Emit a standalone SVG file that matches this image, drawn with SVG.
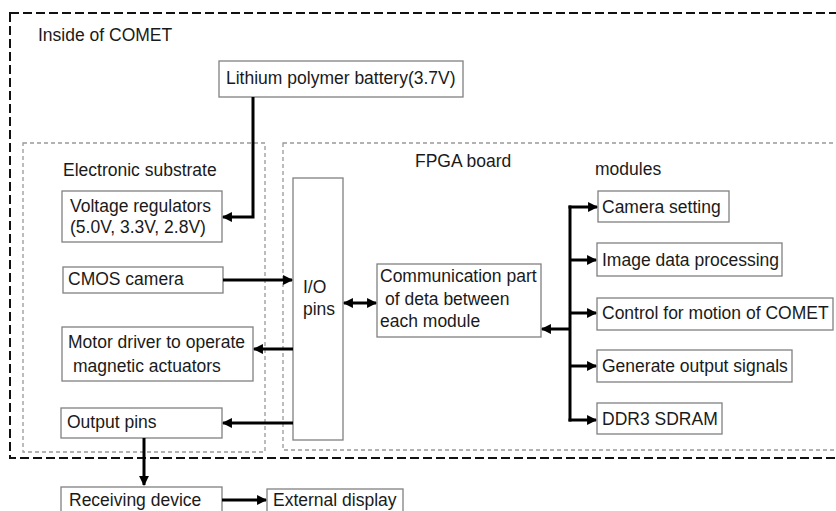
<svg xmlns="http://www.w3.org/2000/svg" width="836" height="511" viewBox="0 0 836 511">
<defs>
<style>
text{font-family:"Liberation Sans",Arial,sans-serif;font-size:17.5px;fill:#1a1a1a}
.box{fill:#fff;stroke:#808080;stroke-width:1.3}
.outer{fill:none;stroke:#111;stroke-width:2;stroke-dasharray:9 4}
.inner{fill:none;stroke:#999;stroke-width:1.3;stroke-dasharray:4 3}
.arr{fill:none;stroke:#000;stroke-width:3}
</style>
<marker id="ah" viewBox="0 0 10 10" refX="9" refY="5" markerWidth="3.3" markerHeight="3.3" orient="auto-start-reverse" markerUnits="strokeWidth">
<path d="M0,0 L10,5 L0,10 z" fill="#000"/>
</marker>
</defs>
<rect width="836" height="511" fill="#fff"/>
<g id="inside-comet">
<rect class="outer" x="10" y="13" width="840" height="445"/>
<text x="38" y="41">Inside of COMET</text>
</g>
<g id="electronic-substrate">
<rect class="inner" x="23" y="143" width="242" height="309"/>
<text x="63" y="176">Electronic substrate</text>
</g>
<g id="fpga-board">
<rect class="inner" x="283" y="143" width="570" height="307"/>
<text x="415" y="167">FPGA board</text>
<text x="595" y="175">modules</text>
</g>
<g id="battery">
<rect class="box" x="219" y="61" width="244" height="36"/>
<text x="226" y="84">Lithium polymer battery(3.7V)</text>
</g>
<g id="voltage-regulators">
<rect class="box" x="62" y="191" width="160" height="51"/>
<text x="70" y="212">Voltage regulators</text>
<text x="70" y="233">(5.0V, 3.3V, 2.8V)</text>
</g>
<g id="cmos-camera">
<rect class="box" x="63" y="267" width="160" height="26"/>
<text x="68" y="285">CMOS camera</text>
</g>
<g id="motor-driver">
<rect class="box" x="62" y="327" width="191" height="54"/>
<text x="68" y="348">Motor driver to operate</text>
<text x="73" y="372">magnetic actuators</text>
</g>
<g id="output-pins">
<rect class="box" x="61" y="408" width="161" height="30"/>
<text x="67" y="428">Output pins</text>
</g>
<g id="receiving-device">
<rect class="box" x="61" y="487" width="161" height="30"/>
<text x="69" y="506">Receiving device</text>
</g>
<g id="external-display">
<rect class="box" x="267" y="489" width="136" height="30"/>
<text x="273" y="506">External display</text>
</g>
<g id="io-pins">
<rect class="box" x="293" y="178" width="50" height="262"/>
<text x="303" y="293">I/O</text>
<text x="303" y="315">pins</text>
</g>
<g id="communication">
<rect class="box" x="377" y="264" width="164" height="73"/>
<text x="380" y="282">Communication part</text>
<text x="385" y="305">of deta between</text>
<text x="380" y="327">each module</text>
</g>
<g id="camera-setting">
<rect class="box" x="598" y="191" width="131" height="31"/>
<text x="602" y="213">Camera setting</text>
</g>
<g id="image-data-processing">
<rect class="box" x="597" y="243" width="185" height="33"/>
<text x="602" y="266">Image data processing</text>
</g>
<g id="control-motion">
<rect class="box" x="597" y="298" width="236" height="32"/>
<text x="602" y="319">Control for motion of COMET</text>
</g>
<g id="generate-output">
<rect class="box" x="597" y="350" width="195" height="32"/>
<text x="602" y="372">Generate output signals</text>
</g>
<g id="ddr3">
<rect class="box" x="597" y="403" width="125" height="31"/>
<text x="602" y="425">DDR3 SDRAM</text>
</g>
<g id="connectors">
<path class="arr" d="M253,97 V217 H223" marker-end="url(#ah)"/>
<path class="arr" d="M223,280 H292" marker-end="url(#ah)"/>
<path class="arr" d="M293,349 H254" marker-end="url(#ah)"/>
<path class="arr" d="M293,423 H223" marker-end="url(#ah)"/>
<path class="arr" d="M144,438 V485" marker-end="url(#ah)"/>
<path class="arr" d="M222,500 H266" marker-end="url(#ah)"/>
<path class="arr" d="M344,303 H376" marker-start="url(#ah)" marker-end="url(#ah)"/>
<path class="arr" d="M570,329 H542" marker-end="url(#ah)"/>
<path class="arr" d="M570,205.5 V421.5"/>
<path class="arr" d="M568.5,207 H597" marker-end="url(#ah)"/>
<path class="arr" d="M570,260 H596" marker-end="url(#ah)"/>
<path class="arr" d="M570,313 H596" marker-end="url(#ah)"/>
<path class="arr" d="M570,366 H596" marker-end="url(#ah)"/>
<path class="arr" d="M568.5,420 H596" marker-end="url(#ah)"/>
</g>
</svg>
